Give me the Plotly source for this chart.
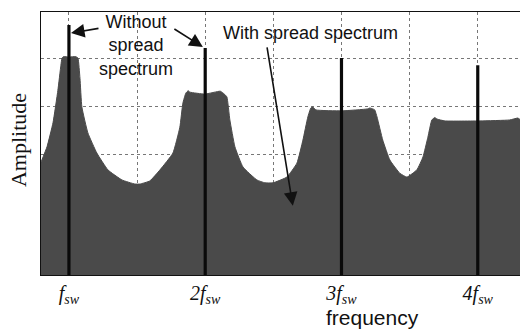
import plotly.graph_objects as go

# Spectrum with spread spectrum (frequency in multiples of fsw, amplitude in dB-like units)
freq = [0.795, 0.839, 0.883, 0.919, 0.941, 0.949, 0.96, 1.0, 1.05, 1.066, 1.081, 1.095, 1.139,
        1.205, 1.286, 1.389, 1.484, 1.521, 1.594, 1.668, 1.763, 1.814, 1.836, 1.858, 1.875,
        1.888, 1.998, 2.11, 2.122, 2.14, 2.159, 2.181, 2.218, 2.277, 2.379, 2.438, 2.497,
        2.599, 2.673, 2.717, 2.753, 2.775, 2.79, 2.812, 3.003, 3.19, 3.208, 3.23, 3.244,
        3.261, 3.303, 3.355, 3.428, 3.480, 3.553, 3.598, 3.634, 3.663, 3.685, 3.70, 3.759,
        4.015, 4.235, 4.294, 4.31]
amp = [28.3, 31.5, 36.5, 43.3, 48.5, 50.0, 50.3, 50.2, 50.3, 50.0, 45.8, 39.8, 34.4,
       30.2, 26.7, 24.6, 23.75, 23.75, 24.4, 26.7, 30.2, 35.6, 40.6, 42.7, 43.2,
       42.9, 42.5, 43.1, 42.9, 42.5, 41.9, 37.1, 31.5, 27.3, 24.6, 24.0, 24.0,
       25.2, 28.1, 32.9, 37.7, 39.6, 39.8, 39.2, 39.0, 39.4, 39.6, 39.4, 39.2,
       37.7, 32.9, 28.75, 26.0, 25.2, 26.7, 29.4, 33.5, 37.1, 37.6, 37.3, 36.9,
       36.9, 37.1, 37.5, 37.2]

# Harmonics without spread spectrum
harmonics = [1, 2, 3, 4]
harm_amp = [56.9, 52.1, 50.0, 48.5]
tick_labels = ["<i>f<sub>sw</sub></i>", "<i>2f<sub>sw</sub></i>",
               "<i>3f<sub>sw</sub></i>", "<i>4f<sub>sw</sub></i>"]

Y_MIN, Y_MAX = 4.79, 59.6
X_MIN, X_MAX = 0.795, 4.31

line_x, line_y = [], []
for h, a in zip(harmonics, harm_amp):
    line_x += [h, h, None]
    line_y += [Y_MIN - 2, a, None]

fig = go.Figure()
fig.add_trace(go.Scatter(x=freq, y=amp, mode="lines", fill="tozeroy",
                         line=dict(color="#4a4a4a", width=1, shape="spline", smoothing=0.4),
                         fillcolor="#4a4a4a", hoverinfo="skip", showlegend=False))
fig.add_trace(go.Scatter(x=line_x, y=line_y, mode="lines",
                         line=dict(color="#0a0a0a", width=3.2),
                         hoverinfo="skip", showlegend=False))

sans = "Liberation Sans, Arial, sans-serif"
serif = "Liberation Serif, Times New Roman, serif"

def label(text, x, y, size, family, angle=0):
    return dict(text=text, xref="paper", yref="paper", x=x, y=y, xanchor="center",
                yanchor="middle", showarrow=False, textangle=angle, align="center",
                font=dict(family=family, size=size, color="#111"))

def arrow(x, y, ax, ay):
    return dict(text="", x=x, y=y, ax=ax, ay=ay, xref="x", yref="y", showarrow=True,
                arrowhead=2, arrowsize=1.7, arrowwidth=1.6, arrowcolor="#111")

annotations = [
    label("Without<br>spread<br>spectrum", 0.198, 0.873, 18, sans),
    label("With spread spectrum", 0.5616, 0.92, 18, sans),
    label("frequency", 0.693, -0.163, 21, sans),
    label("Amplitude", -0.048, 0.513, 22, serif, -90),
    arrow(1.015, 55.2, 29, -5),
    arrow(1.983, 52.3, -30, -19),
    arrow(2.643, 19.2, -26, -160),
]

fig.update_layout(
    width=520, height=331,
    margin=dict(l=41, r=0, t=12, b=56),
    plot_bgcolor="white", paper_bgcolor="white",
    annotations=annotations,
    xaxis=dict(range=[X_MIN, X_MAX], tickvals=harmonics, ticktext=tick_labels,
               tickfont=dict(family=serif, size=20, color="#111"),
               ticks="", ticklabelstandoff=0,
               showgrid=True, gridcolor="#777", griddash="dot", gridwidth=1,
               minor=dict(dtick=0.5, tick0=0.5, showgrid=True, gridcolor="#777",
                          griddash="dot", gridwidth=1),
               showline=True, linecolor="#111", linewidth=1, mirror=True,
               zeroline=False, fixedrange=True),
    yaxis=dict(range=[Y_MIN, Y_MAX], tickvals=[10, 20, 30, 40, 50], showticklabels=False,
               showgrid=True, gridcolor="#777", griddash="dot", gridwidth=1,
               showline=True, linecolor="#111", linewidth=1, zeroline=False,
               ticks="", fixedrange=True),
)

fig.write_html("out.html")
